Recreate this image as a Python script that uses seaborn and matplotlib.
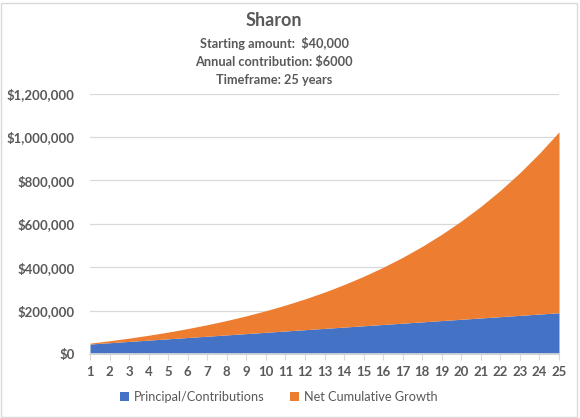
import matplotlib
matplotlib.use("Agg")
import matplotlib.pyplot as plt
import seaborn as sns
import pandas as pd
from matplotlib.patches import Rectangle
from matplotlib.ticker import FuncFormatter

years = list(range(1, 26))
principal = [46000, 52000, 58000, 64000, 70000, 76000, 82000, 88000, 94000, 100000,
             106000, 112000, 118000, 124000, 130000, 136000, 142000, 148000, 154000, 160000,
             166000, 172000, 178000, 184000, 190000]
total_value = [50000, 61000, 73100, 86400, 101000, 117200, 134900, 154400, 175800, 199400,
               225300, 253800, 285200, 319800, 357700, 399500, 445400, 496000, 551600, 612800,
               680000, 754000, 835400, 925000, 1023500]
growth = [t - p for t, p in zip(total_value, principal)]

df = pd.DataFrame({"Year": years, "Principal/Contributions": principal,
                   "Net Cumulative Growth": growth})

sns.set_theme(style="white")
plt.rcParams['font.family'] = ['Lato', 'DejaVu Sans']

TXT = "#595959"
BLUE = "#4472C4"
ORANGE = "#ED7D31"
GRID = "#D9D9D9"

fig = plt.figure(figsize=(5.8, 4.18), dpi=100)
ax = fig.add_axes([90/580, 1-354/418, (559-90)/580, (354-93.5)/418])

ax.stackplot(df["Year"], df["Principal/Contributions"], df["Net Cumulative Growth"],
             colors=[BLUE, ORANGE], labels=["Principal/Contributions", "Net Cumulative Growth"],
             linewidth=0, zorder=2)

ax.set_xlim(1, 25)
ax.set_ylim(0, 1200000)
ax.set_yticks(range(0, 1200001, 200000))
ax.yaxis.set_major_formatter(FuncFormatter(lambda v, p: f"${v:,.0f}"))
ax.set_xticks(years)
ax.set_xticklabels([str(y) for y in years])
ax.grid(axis="y", color=GRID, linewidth=0.9, zorder=0)
ax.set_axisbelow(True)
for s in ["top", "right", "left"]:
    ax.spines[s].set_visible(False)
ax.spines["bottom"].set_color(GRID)
ax.tick_params(axis="y", length=0, pad=11, labelsize=9.5, labelcolor=TXT)
ax.tick_params(axis="x", length=4, width=0.8, color=GRID, pad=5, labelsize=9.5, labelcolor=TXT, bottom=True)
for lab in ax.get_yticklabels() + ax.get_xticklabels():
    lab.set_fontweight("bold")

fig.text(274/580, 1-21/418, "Sharon", ha="center", va="center", fontsize=13, color=TXT, fontweight="bold")
fig.text(274/580, 1-43/418, "Starting amount:  $40,000", ha="center", va="center", fontsize=9.2, color=TXT, fontweight="bold")
fig.text(274/580, 1-62/418, "Annual contribution: $6000", ha="center", va="center", fontsize=9.2, color=TXT, fontweight="bold")
fig.text(274/580, 1-80/418, "Timeframe: 25 years", ha="center", va="center", fontsize=9.2, color=TXT, fontweight="bold")

leg = fig.legend(loc="center", bbox_to_anchor=(279/580, 1-397/418), ncol=2, frameon=False,
                 fontsize=9.2, handlelength=0.7, handleheight=0.7, handletextpad=0.4, columnspacing=2.0)
for t in leg.get_texts():
    t.set_color(TXT)

fig.patches.append(Rectangle((1/580, 1/418), 576/580, 414/418, transform=fig.transFigure,
                             fill=False, edgecolor=GRID, linewidth=1.0))

fig.savefig("out.png", dpi=100, facecolor="white")
